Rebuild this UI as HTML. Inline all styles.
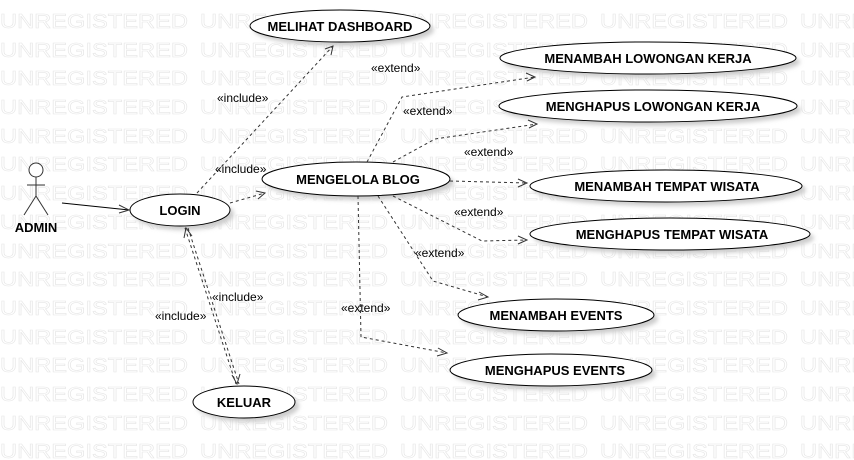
<!DOCTYPE html>
<html><head><meta charset="utf-8"><style>
html,body{margin:0;padding:0;background:#fff;}
svg{display:block;}
.wm{font-family:"Liberation Sans",sans-serif;font-size:20px;font-weight:normal;fill:none;stroke:#e6e6e6;stroke-width:0.6;}
.uc{font-family:"Liberation Sans",sans-serif;font-size:13px;font-weight:bold;fill:#000;text-anchor:middle;}
.lb{font-family:"Liberation Sans",sans-serif;font-size:12px;fill:#000;}
.d{fill:none;stroke:#333;stroke-width:1;stroke-dasharray:3,3;}
.a{fill:none;stroke:#333;stroke-width:1;}
</style></head><body>
<svg width="854" height="460" xmlns="http://www.w3.org/2000/svg">
<defs>
<filter id="sh" x="-10%" y="-20%" width="130%" height="160%"><feGaussianBlur stdDeviation="2"/></filter>
</defs>
<g class="wm">
<text x="0" y="28" textLength="188" lengthAdjust="spacingAndGlyphs">UNREGISTERED</text><text x="200" y="28" textLength="188" lengthAdjust="spacingAndGlyphs">UNREGISTERED</text><text x="400" y="28" textLength="188" lengthAdjust="spacingAndGlyphs">UNREGISTERED</text><text x="600" y="28" textLength="188" lengthAdjust="spacingAndGlyphs">UNREGISTERED</text><text x="800" y="28" textLength="188" lengthAdjust="spacingAndGlyphs">UNREGISTERED</text>
<text x="0" y="57" textLength="188" lengthAdjust="spacingAndGlyphs">UNREGISTERED</text><text x="200" y="57" textLength="188" lengthAdjust="spacingAndGlyphs">UNREGISTERED</text><text x="400" y="57" textLength="188" lengthAdjust="spacingAndGlyphs">UNREGISTERED</text><text x="600" y="57" textLength="188" lengthAdjust="spacingAndGlyphs">UNREGISTERED</text><text x="800" y="57" textLength="188" lengthAdjust="spacingAndGlyphs">UNREGISTERED</text>
<text x="0" y="85" textLength="188" lengthAdjust="spacingAndGlyphs">UNREGISTERED</text><text x="200" y="85" textLength="188" lengthAdjust="spacingAndGlyphs">UNREGISTERED</text><text x="400" y="85" textLength="188" lengthAdjust="spacingAndGlyphs">UNREGISTERED</text><text x="600" y="85" textLength="188" lengthAdjust="spacingAndGlyphs">UNREGISTERED</text><text x="800" y="85" textLength="188" lengthAdjust="spacingAndGlyphs">UNREGISTERED</text>
<text x="0" y="114" textLength="188" lengthAdjust="spacingAndGlyphs">UNREGISTERED</text><text x="200" y="114" textLength="188" lengthAdjust="spacingAndGlyphs">UNREGISTERED</text><text x="400" y="114" textLength="188" lengthAdjust="spacingAndGlyphs">UNREGISTERED</text><text x="600" y="114" textLength="188" lengthAdjust="spacingAndGlyphs">UNREGISTERED</text><text x="800" y="114" textLength="188" lengthAdjust="spacingAndGlyphs">UNREGISTERED</text>
<text x="0" y="143" textLength="188" lengthAdjust="spacingAndGlyphs">UNREGISTERED</text><text x="200" y="143" textLength="188" lengthAdjust="spacingAndGlyphs">UNREGISTERED</text><text x="400" y="143" textLength="188" lengthAdjust="spacingAndGlyphs">UNREGISTERED</text><text x="600" y="143" textLength="188" lengthAdjust="spacingAndGlyphs">UNREGISTERED</text><text x="800" y="143" textLength="188" lengthAdjust="spacingAndGlyphs">UNREGISTERED</text>
<text x="0" y="171" textLength="188" lengthAdjust="spacingAndGlyphs">UNREGISTERED</text><text x="200" y="171" textLength="188" lengthAdjust="spacingAndGlyphs">UNREGISTERED</text><text x="400" y="171" textLength="188" lengthAdjust="spacingAndGlyphs">UNREGISTERED</text><text x="600" y="171" textLength="188" lengthAdjust="spacingAndGlyphs">UNREGISTERED</text><text x="800" y="171" textLength="188" lengthAdjust="spacingAndGlyphs">UNREGISTERED</text>
<text x="0" y="200" textLength="188" lengthAdjust="spacingAndGlyphs">UNREGISTERED</text><text x="200" y="200" textLength="188" lengthAdjust="spacingAndGlyphs">UNREGISTERED</text><text x="400" y="200" textLength="188" lengthAdjust="spacingAndGlyphs">UNREGISTERED</text><text x="600" y="200" textLength="188" lengthAdjust="spacingAndGlyphs">UNREGISTERED</text><text x="800" y="200" textLength="188" lengthAdjust="spacingAndGlyphs">UNREGISTERED</text>
<text x="0" y="229" textLength="188" lengthAdjust="spacingAndGlyphs">UNREGISTERED</text><text x="200" y="229" textLength="188" lengthAdjust="spacingAndGlyphs">UNREGISTERED</text><text x="400" y="229" textLength="188" lengthAdjust="spacingAndGlyphs">UNREGISTERED</text><text x="600" y="229" textLength="188" lengthAdjust="spacingAndGlyphs">UNREGISTERED</text><text x="800" y="229" textLength="188" lengthAdjust="spacingAndGlyphs">UNREGISTERED</text>
<text x="0" y="258" textLength="188" lengthAdjust="spacingAndGlyphs">UNREGISTERED</text><text x="200" y="258" textLength="188" lengthAdjust="spacingAndGlyphs">UNREGISTERED</text><text x="400" y="258" textLength="188" lengthAdjust="spacingAndGlyphs">UNREGISTERED</text><text x="600" y="258" textLength="188" lengthAdjust="spacingAndGlyphs">UNREGISTERED</text><text x="800" y="258" textLength="188" lengthAdjust="spacingAndGlyphs">UNREGISTERED</text>
<text x="0" y="286" textLength="188" lengthAdjust="spacingAndGlyphs">UNREGISTERED</text><text x="200" y="286" textLength="188" lengthAdjust="spacingAndGlyphs">UNREGISTERED</text><text x="400" y="286" textLength="188" lengthAdjust="spacingAndGlyphs">UNREGISTERED</text><text x="600" y="286" textLength="188" lengthAdjust="spacingAndGlyphs">UNREGISTERED</text><text x="800" y="286" textLength="188" lengthAdjust="spacingAndGlyphs">UNREGISTERED</text>
<text x="0" y="315" textLength="188" lengthAdjust="spacingAndGlyphs">UNREGISTERED</text><text x="200" y="315" textLength="188" lengthAdjust="spacingAndGlyphs">UNREGISTERED</text><text x="400" y="315" textLength="188" lengthAdjust="spacingAndGlyphs">UNREGISTERED</text><text x="600" y="315" textLength="188" lengthAdjust="spacingAndGlyphs">UNREGISTERED</text><text x="800" y="315" textLength="188" lengthAdjust="spacingAndGlyphs">UNREGISTERED</text>
<text x="0" y="344" textLength="188" lengthAdjust="spacingAndGlyphs">UNREGISTERED</text><text x="200" y="344" textLength="188" lengthAdjust="spacingAndGlyphs">UNREGISTERED</text><text x="400" y="344" textLength="188" lengthAdjust="spacingAndGlyphs">UNREGISTERED</text><text x="600" y="344" textLength="188" lengthAdjust="spacingAndGlyphs">UNREGISTERED</text><text x="800" y="344" textLength="188" lengthAdjust="spacingAndGlyphs">UNREGISTERED</text>
<text x="0" y="372" textLength="188" lengthAdjust="spacingAndGlyphs">UNREGISTERED</text><text x="200" y="372" textLength="188" lengthAdjust="spacingAndGlyphs">UNREGISTERED</text><text x="400" y="372" textLength="188" lengthAdjust="spacingAndGlyphs">UNREGISTERED</text><text x="600" y="372" textLength="188" lengthAdjust="spacingAndGlyphs">UNREGISTERED</text><text x="800" y="372" textLength="188" lengthAdjust="spacingAndGlyphs">UNREGISTERED</text>
<text x="0" y="401" textLength="188" lengthAdjust="spacingAndGlyphs">UNREGISTERED</text><text x="200" y="401" textLength="188" lengthAdjust="spacingAndGlyphs">UNREGISTERED</text><text x="400" y="401" textLength="188" lengthAdjust="spacingAndGlyphs">UNREGISTERED</text><text x="600" y="401" textLength="188" lengthAdjust="spacingAndGlyphs">UNREGISTERED</text><text x="800" y="401" textLength="188" lengthAdjust="spacingAndGlyphs">UNREGISTERED</text>
<text x="0" y="430" textLength="188" lengthAdjust="spacingAndGlyphs">UNREGISTERED</text><text x="200" y="430" textLength="188" lengthAdjust="spacingAndGlyphs">UNREGISTERED</text><text x="400" y="430" textLength="188" lengthAdjust="spacingAndGlyphs">UNREGISTERED</text><text x="600" y="430" textLength="188" lengthAdjust="spacingAndGlyphs">UNREGISTERED</text><text x="800" y="430" textLength="188" lengthAdjust="spacingAndGlyphs">UNREGISTERED</text>
<text x="0" y="458" textLength="188" lengthAdjust="spacingAndGlyphs">UNREGISTERED</text><text x="200" y="458" textLength="188" lengthAdjust="spacingAndGlyphs">UNREGISTERED</text><text x="400" y="458" textLength="188" lengthAdjust="spacingAndGlyphs">UNREGISTERED</text><text x="600" y="458" textLength="188" lengthAdjust="spacingAndGlyphs">UNREGISTERED</text><text x="800" y="458" textLength="188" lengthAdjust="spacingAndGlyphs">UNREGISTERED</text>
</g>
<g fill="#ccc" filter="url(#sh)">
<ellipse cx="344" cy="30" rx="90" ry="16"/>
<ellipse cx="652" cy="62" rx="148" ry="16"/>
<ellipse cx="652" cy="110" rx="149" ry="16"/>
<ellipse cx="360" cy="183" rx="94" ry="17"/>
<ellipse cx="670" cy="190" rx="136" ry="16"/>
<ellipse cx="674" cy="238" rx="140" ry="16"/>
<ellipse cx="560" cy="319" rx="98" ry="16"/>
<ellipse cx="555" cy="374" rx="101" ry="16"/>
<ellipse cx="184" cy="214" rx="50" ry="16"/>
<ellipse cx="248" cy="406" rx="51" ry="16"/>
</g>
<g fill="#fff" stroke="#000" stroke-width="1">
<ellipse cx="340" cy="26" rx="90" ry="16"/>
<ellipse cx="648" cy="58" rx="148" ry="16"/>
<ellipse cx="648" cy="106" rx="149" ry="16"/>
<ellipse cx="356" cy="179" rx="94" ry="17"/>
<ellipse cx="666" cy="186" rx="136" ry="16"/>
<ellipse cx="670" cy="234" rx="140" ry="16"/>
<ellipse cx="556" cy="315" rx="98" ry="16"/>
<ellipse cx="551" cy="370" rx="101" ry="16"/>
<ellipse cx="180" cy="210" rx="50" ry="16"/>
<ellipse cx="244" cy="402" rx="51" ry="16"/>
</g>
<text class="uc" x="340" y="31">MELIHAT DASHBOARD</text>
<text class="uc" x="648" y="63">MENAMBAH LOWONGAN KERJA</text>
<text class="uc" x="653" y="111">MENGHAPUS LOWONGAN KERJA</text>
<text class="uc" x="358" y="184">MENGELOLA BLOG</text>
<text class="uc" x="667" y="191">MENAMBAH TEMPAT WISATA</text>
<text class="uc" x="672" y="239">MENGHAPUS TEMPAT WISATA</text>
<text class="uc" x="556" y="320">MENAMBAH EVENTS</text>
<text class="uc" x="555" y="375">MENGHAPUS EVENTS</text>
<text class="uc" x="180" y="215">LOGIN</text>
<text class="uc" x="244" y="407">KELUAR</text>
<g class="a" stroke="#000">
<circle cx="36" cy="170" r="7" fill="#fff"/>
<line x1="36" y1="177" x2="36" y2="196"/>
<line x1="27" y1="185" x2="45" y2="185"/>
<line x1="36" y1="196" x2="24" y2="215"/>
<line x1="36" y1="196" x2="48" y2="215"/>
</g>
<text class="uc" x="36" y="232">ADMIN</text>
<line x1="62" y1="203" x2="129" y2="210" stroke="#000"/>
<polyline class="a" points="119,205 129,210 119,213"/>
<line class="d" x1="197" y1="193" x2="333" y2="46"/>
<polyline class="a" points="325,49 333,46 331,55"/>
<line class="d" x1="230" y1="203" x2="265" y2="193"/>
<polyline class="a" points="256,191 265,193 258,199"/>
<line class="d" x1="185" y1="228" x2="236" y2="384"/>
<line class="d" x1="188" y1="228" x2="239" y2="384"/>
<polyline class="a" points="184,238 186,228 192,236"/>
<polyline class="a" points="232,375 237,384 240,374"/>
<polyline class="d" points="367,162 402,97 535,77"/>
<polyline class="a" points="526,73 535,77 527,81"/>
<polyline class="d" points="393,162 435,139 537,124"/>
<polyline class="a" points="528,120 537,124 529,128"/>
<polyline class="d" points="450,181 527,183"/>
<polyline class="a" points="518,179 527,183 518,187"/>
<polyline class="d" points="393,196 482,241 527,240"/>
<polyline class="a" points="518,236 527,240 518,244"/>
<polyline class="d" points="378,196 433,281 488,297"/>
<polyline class="a" points="479,292 488,297 478,300"/>
<polyline class="d" points="358,196 361,337 447,353"/>
<polyline class="a" points="438,348 447,353 437,356"/>
<text class="lb" x="217" y="102">«include»</text>
<text class="lb" x="215" y="173">«include»</text>
<text class="lb" x="212" y="301">«include»</text>
<text class="lb" x="155" y="320">«include»</text>
<text class="lb" x="371" y="72">«extend»</text>
<text class="lb" x="403" y="115">«extend»</text>
<text class="lb" x="464" y="156">«extend»</text>
<text class="lb" x="454" y="216">«extend»</text>
<text class="lb" x="415" y="257">«extend»</text>
<text class="lb" x="341" y="312">«extend»</text>
</svg>
</body></html>
